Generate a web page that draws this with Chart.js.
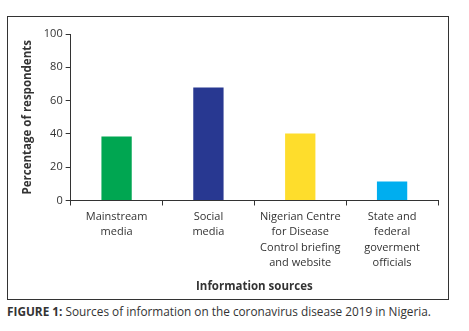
<!DOCTYPE html>
<html>
<head>
<meta charset="utf-8">
<script src="https://cdn.jsdelivr.net/npm/chart.js@4.4.1/dist/chart.umd.min.js"></script>
<style>
  body { margin: 0; background: #fff; font-family: "Open Sans", sans-serif; }
  #box { position: absolute; left: 7px; top: 16px; width: 440px; height: 282px; border: 1px solid #333; }
  #caption { position: absolute; left: 7px; top: 303px; font-size: 11.8px; color: #333; white-space: nowrap; }
</style>
</head>
<body>
<div id="box"><canvas id="chart"></canvas></div>
<div id="caption"><b>FIGURE 1:</b> Sources of information on the coronavirus disease 2019 in Nigeria.</div>
<script>
const categories = [
  ['Mainstream', 'media'],
  ['Social', 'media'],
  ['Nigerian Centre', 'for Disease', 'Control briefing', 'and website'],
  ['State and', 'federal', 'goverment', 'officials']
];
const percentages = [38.4, 67.8, 40.2, 11.4];
const barColours = ['#00a651', '#283891', '#fedd2c', '#00aeef'];
const yTicks = [0, 20, 40, 60, 80, 100];

const ctx = document.getElementById('chart').getContext('2d');
new Chart(ctx, {
  type: 'bar',
  data: {
    labels: categories,
    datasets: [{
      label: 'Percentage of respondents',
      data: percentages,
      backgroundColor: barColours,
      barPercentage: 0.33,
      categoryPercentage: 1.0
    }]
  },
  options: {
    responsive: true,
    maintainAspectRatio: false,
    animation: false,
    layout: { padding: { top: 17, right: 10, left: 9, bottom: 1 } },
    plugins: { legend: { display: false }, tooltip: { enabled: false } },
    scales: {
      x: {
        grid: { drawOnChartArea: false, drawTicks: true, tickLength: 5, color: '#333', offset: true },
        border: { color: '#333', width: 1 },
        ticks: { color: '#333', font: { family: 'Open Sans', size: 11, lineHeight: 1.38 }, maxRotation: 0, autoSkip: false, padding: 4 },
        title: { display: true, text: 'Information sources', color: '#333', font: { family: 'Open Sans', size: 11.5, weight: 'bold' }, padding: { top: 6 } }
      },
      y: {
        min: 0,
        max: 100,
        afterBuildTicks: axis => { axis.ticks = yTicks.map(v => ({ value: v })); },
        grid: { drawOnChartArea: false, drawTicks: true, tickLength: 5, color: '#333' },
        border: { color: '#333', width: 1 },
        ticks: { color: '#333', font: { family: 'Open Sans', size: 11 }, padding: 3 },
        title: { display: true, text: 'Percentage of respondents', color: '#333', font: { family: 'Open Sans', size: 11.5, weight: 'bold' }, padding: { bottom: 6 } }
      }
    }
  }
});
</script>
</body>
</html>
